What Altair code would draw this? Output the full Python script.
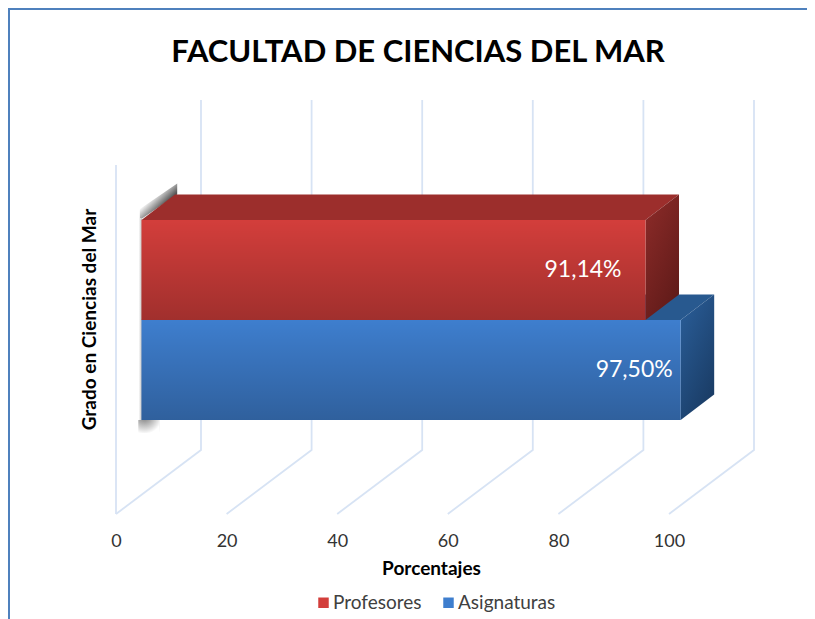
import altair as alt
import pandas as pd

# ---- chart values ----
series = ["Profesores", "Asignaturas"]
values = [91.14, 97.50]
tick_values = [0, 20, 40, 60, 80, 100]
title_text = "FACULTAD DE CIENCIAS DEL MAR"
x_title = "Porcentajes"
y_title = "Grado en Ciencias del Mar"

# ---- oblique-projection settings, in axis units ----
X_MAX = 115.37
Y_MAX = 414
WALL_DX, WALL_DY = 15.37, 64
BAR_X0 = 4.61
BAR_DX, BAR_DY = 6.06, 25.5
BAND = {"Asignaturas": (94, 194), "Profesores": (194, 294)}
FONT = "Lato"
GRID = "#D7E3F4"
LABEL_DX = {"Profesores": -24, "Asignaturas": -8}

xs = alt.Scale(domain=[0, X_MAX], nice=False, zero=False)
ys = alt.Scale(domain=[0, Y_MAX], nice=False, zero=False)
x_axis = alt.Axis(
    values=tick_values, grid=False, domain=False, ticks=False, labelFlush=False,
    labelFont=FONT, labelFontSize=18, labelColor="#333333", labelPadding=18,
    titleFont=FONT, titleFontSize=19, titleFontWeight="bold", titleColor="#000000",
    titleX=315, titleY=54, titleBaseline="middle",
    format="d",
)
y_axis = alt.Axis(
    grid=False, domain=False, ticks=False, labels=False,
    titleFont=FONT, titleFontSize=19, titleFontWeight="bold", titleColor="#000000",
    titleX=-27, titleY=219, titleBaseline="middle",
)
X = lambda f="x": alt.X(f"{f}:Q", scale=xs, axis=x_axis, title=x_title)
Y = lambda f="y": alt.Y(f"{f}:Q", scale=ys, axis=y_axis, title=y_title)


def grad(c0, c1, x1=0, y1=0, x2=0, y2=1):
    return alt.Gradient(
        gradient="linear", x1=x1, y1=y1, x2=x2, y2=y2,
        stops=[alt.GradientStop(color=c0, offset=0), alt.GradientStop(color=c1, offset=1)],
    )


# ---- grid ----
rows = []
for t in tick_values:
    rows.append(dict(tick=t, i=0, x=t, y=0))
    rows.append(dict(tick=t, i=1, x=t + WALL_DX, y=WALL_DY))
    rows.append(dict(tick=t, i=2, x=t + WALL_DX, y=Y_MAX))
grid = alt.Chart(pd.DataFrame(rows)).mark_line(color=GRID, strokeWidth=1.8).encode(
    x=X(), y=Y(), detail="tick:N", order="i:Q",
)
front_axis = alt.Chart(pd.DataFrame({"x": [0, 0], "y": [0, 349]})).mark_line(
    color=GRID, strokeWidth=1.8
).encode(x=X(), y=Y())

# ---- soft shadow at the bar's left side ----
top_r = BAND["Profesores"][1]
low_b = BAND["Asignaturas"][0]
shadow_a = alt.Chart(pd.DataFrame({
    "x": [BAR_X0 - 0.3, BAR_X0 + BAR_DX + 0.4],
    "y": [top_r, top_r + BAR_DY],
    "y2": [top_r + 11, top_r + BAR_DY + 11],
})).mark_area(orient="vertical", color=grad("#555555", "#ffffff", 0.62, 0.62, 0.34, 0.34)).encode(
    x=X(), y=Y(), y2="y2:Q"
)
shadow_b = alt.Chart(pd.DataFrame({
    "x": [BAR_X0 - 0.5], "x2": [BAR_X0 + 0.1], "y": [low_b - 2], "y2": [top_r + 2],
})).mark_rect(color=grad("#ffffff", "#bbbbbb", 0, 0, 1, 0)).encode(
    x=X(), x2="x2:Q", y=Y(), y2="y2:Q"
)
shadow_c = alt.Chart(pd.DataFrame({
    "x": [BAR_X0 - 0.6], "x2": [BAR_X0 + 3.2], "y": [low_b - 13], "y2": [low_b],
})).mark_rect(color=alt.Gradient(
    gradient="radial", x1=0.3, y1=0, r1=0, x2=0.3, y2=0, r2=0.85,
    stops=[alt.GradientStop(color="#777777", offset=0), alt.GradientStop(color="#ffffff", offset=1)],
)).encode(x=X(), x2="x2:Q", y=Y(), y2="y2:Q")

# ---- bar faces ----
TOP = {"Profesores": "#9C2E2C", "Asignaturas": "#28598F"}
SIDE = {"Profesores": ("#8A2A28", "#5E1A18"), "Asignaturas": ("#295C96", "#193A62")}
layers = [grid, front_axis, shadow_a, shadow_b, shadow_c]
for name in ["Asignaturas", "Profesores"]:
    v = values[series.index(name)]
    lo, hi = BAND[name]
    xr = BAR_X0 + v
    top = pd.DataFrame({
        "y": [hi, hi + BAR_DY],
        "x": [BAR_X0, BAR_X0 + BAR_DX],
        "x2": [xr, xr + BAR_DX],
    })
    side = pd.DataFrame({
        "x": [xr, xr + BAR_DX],
        "y": [lo, lo + BAR_DY],
        "y2": [hi, hi + BAR_DY],
    })
    layers.append(alt.Chart(top).mark_area(orient="horizontal", color=TOP[name]).encode(
        x=X(), x2="x2:Q", y=Y()
    ))
    layers.append(alt.Chart(side).mark_area(
        orient="vertical", color=grad(SIDE[name][0], SIDE[name][1], 0.2, 0, 0.8, 1)
    ).encode(x=X(), y=Y(), y2="y2:Q"))

df = pd.DataFrame({
    "serie": series,
    "x": [BAR_X0] * 2,
    "x2": [BAR_X0 + v for v in values],
    "y": [BAND[s][0] for s in series],
    "y2": [BAND[s][1] for s in series],
    "label": [f"{v:.2f}".replace(".", ",") + "%" for v in values],
    "ly": [(BAND[s][0] + BAND[s][1]) / 2 + 0 for s in series],
})
fronts = alt.Chart(df).mark_rect().encode(
    x=X(), x2="x2:Q", y=Y(), y2="y2:Q",
    color=alt.Color(
        "serie:N",
        scale=alt.Scale(domain=series, range=["#D33E3B", "#3E7ECE"]),
        sort=series,
        legend=alt.Legend(
            title=None, orient="none", legendX=198, legendY=493, direction="horizontal",
            symbolType="square", symbolSize=110, symbolStrokeWidth=0,
            labelFont=FONT, labelFontSize=19, labelColor="#404040",
            columnPadding=17, labelOffset=0,
        ),
    ),
)
shade = alt.Chart(df).mark_rect(
    color=grad("rgba(0,0,0,0)", "rgba(0,0,0,0.24)")
).encode(x=X(), x2="x2:Q", y=Y(), y2="y2:Q", detail="serie:N")
layers += [fronts, shade]
for i, name in enumerate(series):
    layers.append(
        alt.Chart(df[df.serie == name]).mark_text(
            align="right", baseline="middle", color="#FFFFFF", font=FONT, fontSize=23,
            dx=LABEL_DX[name],
        ).encode(x=X("x2"), y=Y("ly"), text="label:N")
    )

# ---- outer frame ----
frame_left = alt.Chart(pd.DataFrame({"a": [0]})).mark_rule(color="#4F81BD", strokeWidth=2).encode(
    x=alt.value(-107), y=alt.value(-92), y2=alt.value(520)
)
frame_top = alt.Chart(pd.DataFrame({"a": [0]})).mark_rule(color="#4F81BD", strokeWidth=2).encode(
    y=alt.value(-91), x=alt.value(-108), x2=alt.value(700)
)
layers += [frame_left, frame_top]

chart = alt.layer(*layers).resolve_scale(color="independent").properties(
    width=638,
    height=Y_MAX,
    title=alt.TitleParams(
        title_text, font=FONT, fontSize=31, fontWeight="bold", color="#000000",
        anchor="middle", frame="group", dx=-17, offset=-62,
    ),
    autosize=alt.AutoSizeParams(type="none"),
    padding={"left": 108, "top": 92, "right": 53, "bottom": 105},
    background="#FFFFFF",
).configure_view(stroke=None)

chart.save("out.html", embed_options={"renderer": "svg", "actions": False})
